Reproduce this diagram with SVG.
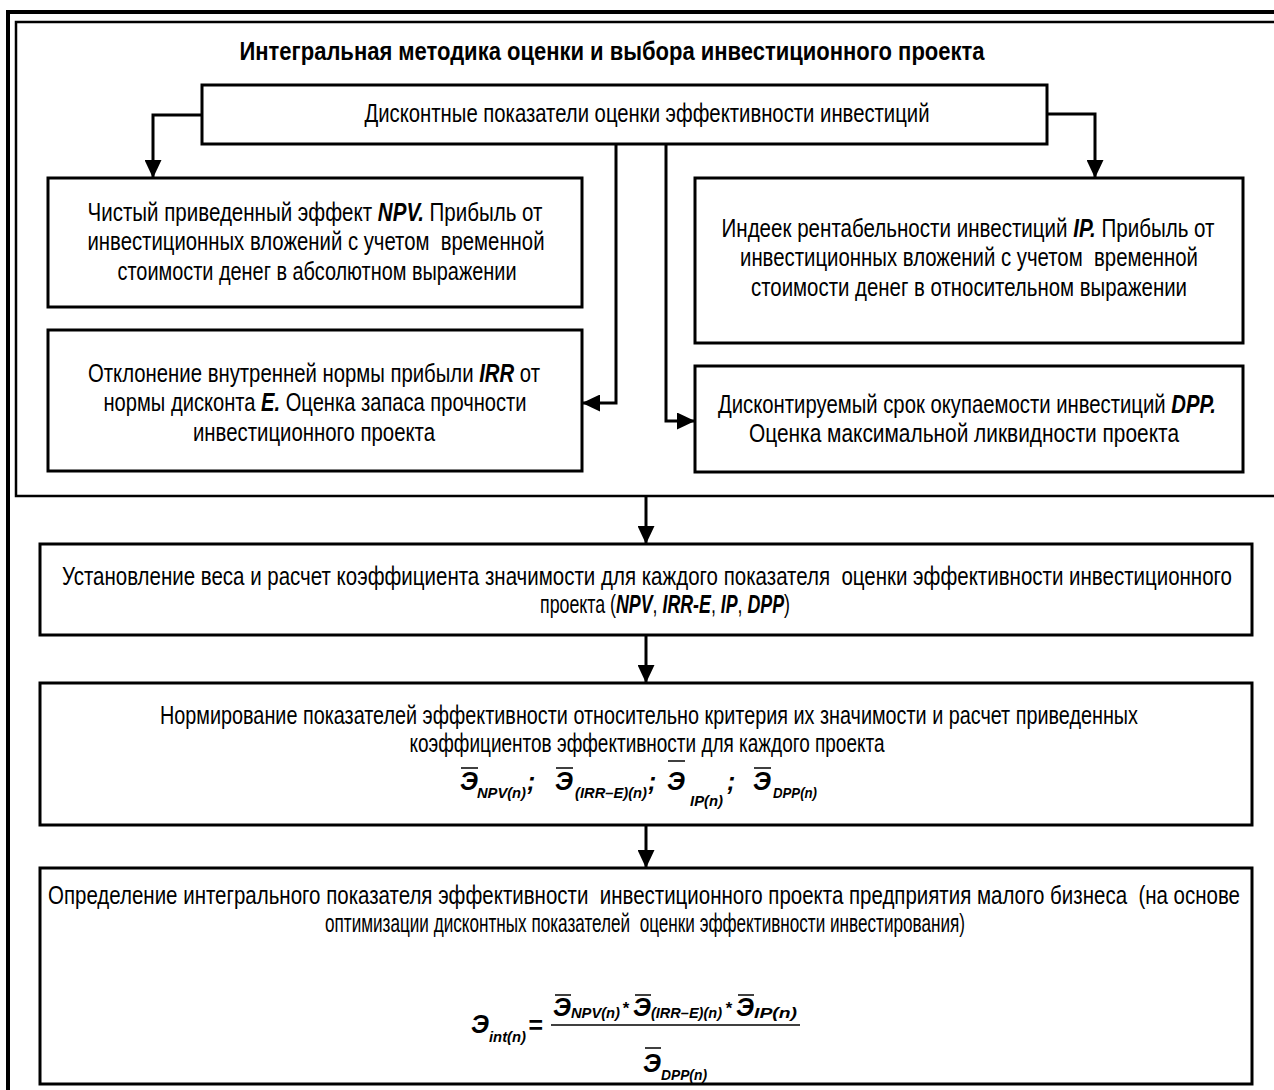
<svg xmlns="http://www.w3.org/2000/svg" width="1274" height="1090" viewBox="0 0 1274 1090">
<style>
  .t { font-family: "Liberation Sans Narrow", "Liberation Sans", Arial, sans-serif; font-size: 25px; fill: #000; white-space: pre; }
  .b { font-weight: bold; }
  .bi { font-weight: bold; font-style: italic; }
  .f { font-family: "Liberation Sans", Arial, sans-serif; font-weight: bold; font-style: italic; fill: #000; }
  .E { font-size: 25px; }
  .s { font-family: "Liberation Sans Narrow", "Liberation Sans", Arial, sans-serif; font-size: 15px; font-weight: bold; font-style: italic; fill: #000; }
  .box { fill: #fff; stroke: #000; stroke-width: 3; }
  .con { fill: none; stroke: #000; stroke-width: 3; }
  .bar { stroke: #000; stroke-width: 1.5; }
</style>
<defs>
  <marker id="ah" markerUnits="userSpaceOnUse" markerWidth="18" markerHeight="17" viewBox="0 0 18 17" refX="18" refY="8.5" orient="auto">
    <path d="M0,0 L18,8.5 L0,17 Z" fill="#000"/>
  </marker>
</defs>
<rect width="1274" height="1090" fill="#fff"/>

<g id="frame">
  <path d="M8,1090 V12 H1274" fill="none" stroke="#000" stroke-width="4"/>
  <path d="M1274,22 H16 V496 H1274" fill="none" stroke="#000" stroke-width="2.5"/>
</g>

<g id="title">
  <text class="t b" x="612" y="60" text-anchor="middle" textLength="745" lengthAdjust="spacingAndGlyphs">Интегральная методика оценки и выбора инвестиционного проекта</text>
</g>

<g id="connectors">
  <path class="con" d="M202,115 H153 V178" marker-end="url(#ah)"/>
  <path class="con" d="M1047,114 H1095 V178" marker-end="url(#ah)"/>
  <path class="con" d="M616,144 V403 H582" marker-end="url(#ah)"/>
  <path class="con" d="M666,144 V421 H695" marker-end="url(#ah)"/>
  <path class="con" d="M646,496 V544" marker-end="url(#ah)"/>
  <path class="con" d="M646,635 V683" marker-end="url(#ah)"/>
  <path class="con" d="M646,825 V868" marker-end="url(#ah)"/>
</g>

<g id="discount">
  <rect class="box" x="202" y="85" width="845" height="59"/>
  <text class="t" x="647" y="122" text-anchor="middle" textLength="565" lengthAdjust="spacingAndGlyphs">Дисконтные показатели оценки эффективности инвестиций</text>
</g>

<g id="npv">
  <rect class="box" x="48" y="178" width="534" height="129"/>
  <text class="t" x="315" y="221" text-anchor="middle" textLength="455" lengthAdjust="spacingAndGlyphs">Чистый приведенный эффект <tspan class="bi">NPV.</tspan> Прибыль от</text>
  <text class="t" x="316" y="250" text-anchor="middle" textLength="457" lengthAdjust="spacingAndGlyphs">инвестиционных вложений с учетом  временной</text>
  <text class="t" x="317" y="280" text-anchor="middle" textLength="399" lengthAdjust="spacingAndGlyphs">стоимости денег в абсолютном выражении</text>
</g>

<g id="ip">
  <rect class="box" x="695" y="178" width="548" height="165"/>
  <text class="t" x="968" y="237" text-anchor="middle" textLength="493" lengthAdjust="spacingAndGlyphs">Индеек рентабельности инвестиций <tspan class="bi">IP.</tspan> Прибыль от</text>
  <text class="t" x="969" y="266" text-anchor="middle" textLength="458" lengthAdjust="spacingAndGlyphs">инвестиционных вложений с учетом  временной</text>
  <text class="t" x="969" y="296" text-anchor="middle" textLength="436" lengthAdjust="spacingAndGlyphs">стоимости денег в относительном выражении</text>
</g>

<g id="irr">
  <rect class="box" x="48" y="330" width="534" height="141"/>
  <text class="t" x="314" y="382" text-anchor="middle" textLength="452" lengthAdjust="spacingAndGlyphs">Отклонение внутренней нормы прибыли <tspan class="bi">IRR</tspan> от</text>
  <text class="t" x="315" y="411" text-anchor="middle" textLength="423" lengthAdjust="spacingAndGlyphs">нормы дисконта <tspan class="bi">E.</tspan> Оценка запаса прочности</text>
  <text class="t" x="314" y="441" text-anchor="middle" textLength="242" lengthAdjust="spacingAndGlyphs">инвестиционного проекта</text>
</g>

<g id="dpp">
  <rect class="box" x="695" y="366" width="548" height="106"/>
  <text class="t" x="967" y="413" text-anchor="middle" textLength="498" lengthAdjust="spacingAndGlyphs">Дисконтируемый срок окупаемости инвестиций <tspan class="bi">DPP.</tspan></text>
  <text class="t" x="964" y="442" text-anchor="middle" textLength="430" lengthAdjust="spacingAndGlyphs">Оценка максимальной ликвидности проекта</text>
</g>

<g id="weights">
  <rect class="box" x="40" y="544" width="1212" height="91"/>
  <text class="t" x="647" y="585" text-anchor="middle" textLength="1170" lengthAdjust="spacingAndGlyphs">Установление веса и расчет коэффициента значимости для каждого показателя  оценки эффективности инвестиционного</text>
  <text class="t" x="665" y="613" text-anchor="middle" textLength="250" lengthAdjust="spacingAndGlyphs">проекта (<tspan class="bi">NPV</tspan>, <tspan class="bi">IRR-E</tspan>, <tspan class="bi">IP</tspan>, <tspan class="bi">DPP</tspan>)</text>
</g>

<g id="norm">
  <rect class="box" x="40" y="683" width="1212" height="142"/>
  <text class="t" x="649" y="724" text-anchor="middle" textLength="978" lengthAdjust="spacingAndGlyphs">Нормирование показателей эффективности относительно критерия их значимости и расчет приведенных</text>
  <text class="t" x="647" y="752" text-anchor="middle" textLength="475" lengthAdjust="spacingAndGlyphs">коэффициентов эффективности для каждого проекта</text>
  <text class="f E" x="460" y="790">Э</text>
  <text class="s" x="477" y="798" textLength="49" lengthAdjust="spacingAndGlyphs">NPV(n)</text>
  <text class="f E" x="527" y="790">;</text>
  <text class="f E" x="555" y="790">Э</text>
  <text class="s" x="575" y="798" textLength="72" lengthAdjust="spacingAndGlyphs">(IRR–E)(n)</text>
  <text class="f E" x="648" y="790">;</text>
  <text class="f E" x="667" y="790">Э</text>
  <text class="s" x="690" y="806" textLength="33" lengthAdjust="spacingAndGlyphs">IP(n)</text>
  <text class="f E" x="727" y="790">;</text>
  <text class="f E" x="753" y="790">Э</text>
  <text class="s" x="773" y="798" textLength="44" lengthAdjust="spacingAndGlyphs">DPP(n)</text>
  <line class="bar" x1="461" y1="768" x2="478" y2="768"/>
  <line class="bar" x1="556" y1="768" x2="573" y2="768"/>
  <line class="bar" x1="668" y1="761" x2="685" y2="761"/>
  <line class="bar" x1="754" y1="768" x2="771" y2="768"/>
</g>

<g id="integral">
  <rect class="box" x="40" y="868" width="1212" height="216"/>
  <text class="t" x="644" y="904" text-anchor="middle" textLength="1192" lengthAdjust="spacingAndGlyphs">Определение интегрального показателя эффективности  инвестиционного проекта предприятия малого бизнеса  (на основе</text>
  <text class="t" x="645" y="932" text-anchor="middle" textLength="640" lengthAdjust="spacingAndGlyphs">оптимизации дисконтных показателей  оценки эффективности инвестирования)</text>
  <text class="f E" x="471" y="1033">Э</text>
  <text class="s" x="489" y="1042" textLength="37" lengthAdjust="spacingAndGlyphs">int(n)</text>
  <text class="f E" x="528" y="1034" font-style="normal">=</text>
  <text class="f E" x="553" y="1016">Э</text>
  <text class="s" x="571" y="1018" textLength="49" lengthAdjust="spacingAndGlyphs">NPV(n)</text>
  <text class="f" x="622" y="1014" font-size="17px">*</text>
  <text class="f E" x="633" y="1016">Э</text>
  <text class="s" x="651" y="1018" textLength="71" lengthAdjust="spacingAndGlyphs">(IRR–E)(n)</text>
  <text class="f" x="725" y="1014" font-size="17px">*</text>
  <text class="f E" x="736" y="1016">Э</text>
  <text class="s" x="754" y="1018" textLength="43" lengthAdjust="spacingAndGlyphs">IP(n)</text>
  <line class="bar" x1="555" y1="995" x2="571" y2="995"/>
  <line class="bar" x1="635" y1="995" x2="651" y2="995"/>
  <line class="bar" x1="738" y1="995" x2="754" y2="995"/>
  <line x1="551" y1="1025" x2="800" y2="1025" stroke="#000" stroke-width="1.5"/>
  <text class="f E" x="643" y="1072">Э</text>
  <text class="s" x="661" y="1080" textLength="46" lengthAdjust="spacingAndGlyphs">DPP(n)</text>
  <line class="bar" x1="645" y1="1048" x2="661" y2="1048"/>
</g>
</svg>
